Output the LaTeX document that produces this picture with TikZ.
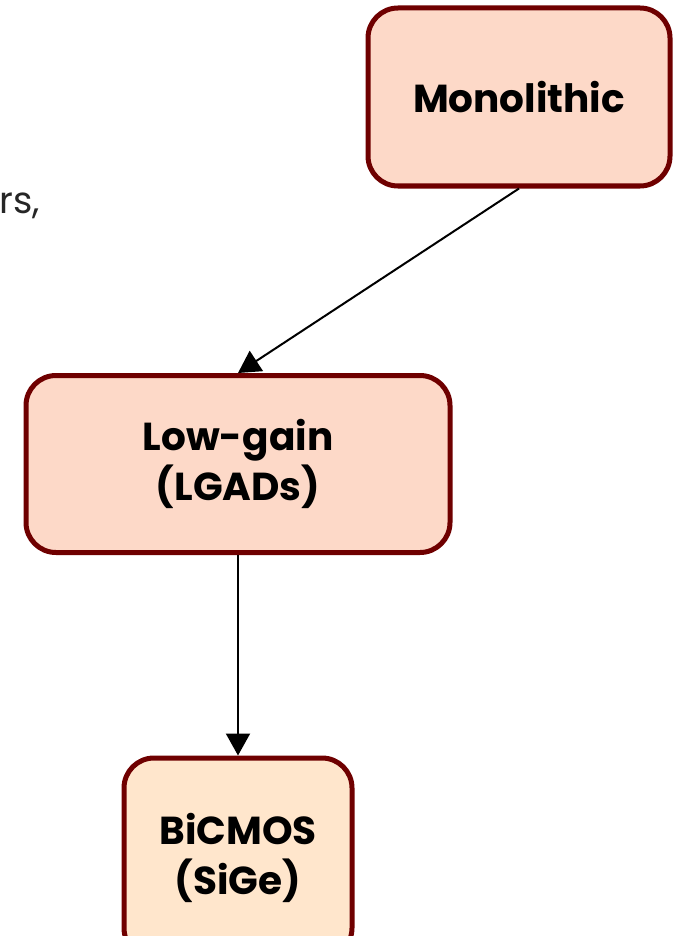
\documentclass[tikz,border=0pt]{standalone}
\usepackage{fontspec}
\setmainfont{Poppins}
\usetikzlibrary{arrows.meta}
\definecolor{bord}{HTML}{6F0000}
\definecolor{fillA}{HTML}{FDD9C8}
\definecolor{fillB}{HTML}{FFE6CC}
\tikzset{
  box/.style={draw=bord, line width=5pt, rounded corners=30pt, inner sep=0pt, align=center, font=\fontsize{39}{50}\selectfont\bfseries},
  conn/.style={line width=2pt, -{Triangle[length=22pt,width=24pt]}},
}
\begin{document}
\begin{tikzpicture}[x=1pt,y=-1pt]
\useasboundingbox (0,0) rectangle (672,936);
\node[box, fill=fillA, minimum width=302pt, minimum height=178pt] (mono) at (519,97) {Monolithic};
\node[box, fill=fillA, minimum width=424pt, minimum height=177pt] (lgad) at (238,464) {Low-gain\\(LGADs)};
\node[box, fill=fillB, minimum width=228pt, minimum height=200pt] (bic) at (238,858) {BiCMOS\\(SiGe)};
\node[anchor=base east, font=\fontsize{37}{44}\selectfont, text=black!85, inner sep=0pt] (frag) at (40,213) {rs,};
\draw[conn] (mono.south) -- (lgad.north);
\draw[conn] (lgad.south) -- (bic.north);
\end{tikzpicture}
\end{document}
